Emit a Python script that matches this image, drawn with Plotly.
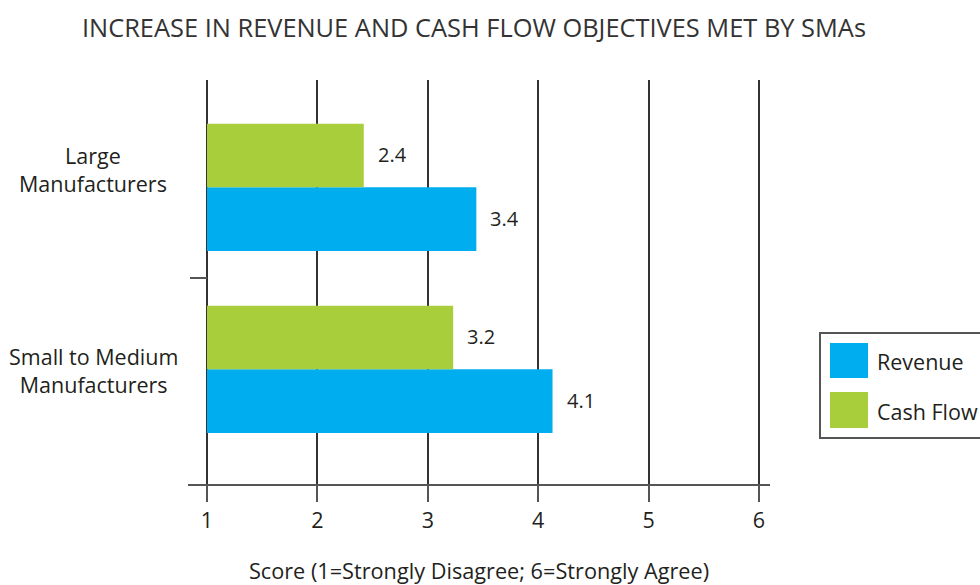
import plotly.graph_objects as go

categories = ["Large<br>Manufacturers", "Small to Medium<br>Manufacturers"]
series_names = ["Revenue", "Cash Flow"]
revenue = [3.44, 4.13]
cash_flow = [2.42, 3.23]
x_ticks = [1, 2, 3, 4, 5, 6]
score_min = 1   # bars grow from the bottom of the scale

colors = {"Revenue": "#00ADEE", "Cash Flow": "#A8CE3B"}
FONT = "Open Sans"
TXT = "#231F20"

# body margin is removed in the page, so figure == window
W, H = 980, 585
L, R, T, B = 188, 770, 80, 484   # plot area in pixels


def px_x(px):
    return (px - L) / (R - L)


def px_y(py):
    return (B - py) / (B - T)


# Large on top, Small below
y_pos = [len(categories) - 1 - i for i in range(len(categories))]

fig = go.Figure()
for name, vals in zip(series_names, [revenue, cash_flow]):
    fig.add_trace(go.Bar(
        x=[v - score_min for v in vals], base=score_min, y=y_pos,
        name=name, orientation="h",
        marker=dict(color=colors[name], line=dict(width=0)),
        showlegend=False, hoverinfo="skip",
    ))

fig.update_layout(
    width=W, height=H,
    margin=dict(l=L, r=W - R, t=T, b=H - B, pad=0),
    paper_bgcolor="white", plot_bgcolor="white",
    barmode="group", bargap=0.3, bargroupgap=0,
    font=dict(family=FONT, color=TXT, size=21.5),
    title=dict(
        text="INCREASE IN REVENUE AND CASH FLOW OBJECTIVES MET BY SMAs",
        x=474 / W, xanchor="center", y=1 - 28 / H, yanchor="middle",
        font=dict(family=FONT, size=25.4, color="#333333"),
    ),
)

fig.update_xaxes(
    range=[0.828, 6.1], tickvals=x_ticks, automargin=False,
    showgrid=True, gridcolor="#333333", gridwidth=1.5,
    showline=True, linecolor="#555555", linewidth=2,
    ticks="outside", ticklen=16, tickwidth=2, tickcolor="#555555",
    tickfont=dict(size=21.5, color=TXT),
    zeroline=False,
    title=dict(text="Score (1=Strongly Disagree; 6=Strongly Agree)",
               font=dict(size=21.7, color=TXT), standoff=34),
)

fig.update_yaxes(
    range=[-0.63, 1.59], anchor="free", position=px_x(207),
    automargin=False,
    tickvals=[0.5], ticktext=[""],
    ticks="outside", ticklen=17, tickwidth=2, tickcolor="#555555",
    showgrid=False, showline=False, zeroline=False,
)

# category labels, centred line by line like the original
label_shift = [18, -1]
for yp, cat, ys in zip(y_pos, categories, label_shift):
    fig.add_annotation(
        x=px_x(93), xref="paper", y=yp, yref="y", yshift=ys,
        text=cat, showarrow=False, align="center",
        xanchor="center", yanchor="middle",
        font=dict(size=21.5, color=TXT),
    )

# value labels beside each bar
offset = 0.35 / 2
for vals, dy in zip([revenue, cash_flow], [-offset, offset]):
    for v, yp in zip(vals, y_pos):
        fig.add_annotation(
            x=v, y=yp + dy, xref="x", yref="y", xshift=12,
            text=f"{v:.1f}", showarrow=False,
            xanchor="left", yanchor="middle", yshift=1,
            font=dict(size=20, color=TXT),
        )

# legend box drawn by hand so the swatches are large squares
fig.add_shape(type="rect", xref="paper", yref="paper",
              x0=px_x(820), x1=px_x(995), y0=px_y(438), y1=px_y(333),
              line=dict(color="#555555", width=2), fillcolor="white")
legend_rows = [(343, 378, 361), (392, 428, 411)]
for name, (top, bot, ty) in zip(series_names, legend_rows):
    fig.add_shape(type="rect", xref="paper", yref="paper",
                  x0=px_x(830), x1=px_x(868), y0=px_y(bot), y1=px_y(top),
                  line=dict(width=0), fillcolor=colors[name])
    fig.add_annotation(x=px_x(875), y=px_y(ty), xref="paper", yref="paper",
                       text=name, showarrow=False, xanchor="left",
                       yanchor="middle", font=dict(size=21.5, color=TXT))

fig.write_html(
    "out.html",
    config={"displayModeBar": False},
    post_script="document.body.style.margin='0';"
                "document.body.style.overflow='hidden';",
)
